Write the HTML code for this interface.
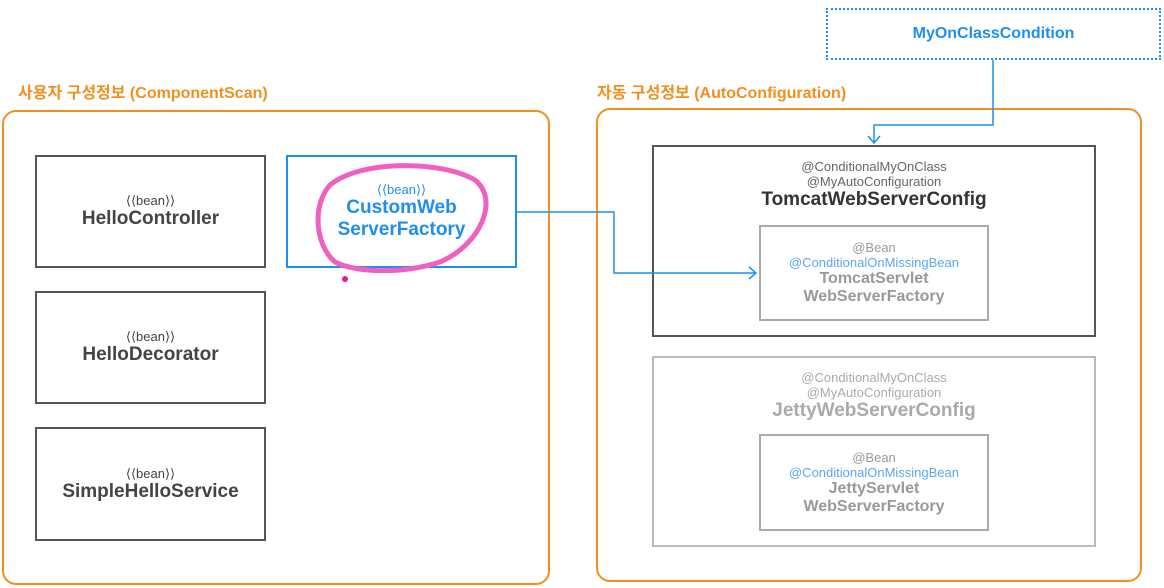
<!DOCTYPE html>
<html><head><meta charset="utf-8"><style>
body{margin:0;width:1164px;height:588px;background:#fff;position:relative;overflow:hidden;font-family:"Liberation Sans","Noto Sans CJK KR",sans-serif;}
.a{position:absolute;box-sizing:border-box;}
.box{display:flex;flex-direction:column;align-items:center;justify-content:center;text-align:center;}
.lbl{color:#f0901e;font-weight:bold;font-size:16px;}
.s{font-size:13px;line-height:15px}
.b{font-size:19px;font-weight:bold;line-height:22px}
</style></head><body>
<div class="a lbl" style="left:18px;top:79px">사용자 구성정보 (ComponentScan)</div>
<div class="a lbl" style="left:597px;top:79px">자동 구성정보 (AutoConfiguration)</div>
<div class="a" style="left:2px;top:110px;width:548px;height:475px;border:2px solid #f0901e;border-radius:14px"></div>
<div class="a" style="left:596px;top:108px;width:546px;height:474px;border:2px solid #f0901e;border-radius:14px"></div>

<div class="a box" style="left:35px;top:155px;width:231px;height:113px;border:2px solid #555;color:#444"><div class="s">⟨⟨bean⟩⟩</div><div class="b">HelloController</div></div>
<div class="a box" style="left:35px;top:291px;width:231px;height:113px;border:2px solid #555;color:#444"><div class="s">⟨⟨bean⟩⟩</div><div class="b">HelloDecorator</div></div>
<div class="a box" style="left:35px;top:427px;width:231px;height:114px;border:2px solid #555;color:#444"><div class="s">⟨⟨bean⟩⟩</div><div class="b">SimpleHelloService</div></div>
<div class="a box" style="left:286px;top:155px;width:231px;height:113px;border:2px solid #1e8ff0;color:#1e8ff0"><div class="s">⟨⟨bean⟩⟩</div><div class="b">CustomWeb<br>ServerFactory</div></div>

<div class="a box" style="left:826px;top:8px;width:335px;height:52px;border:2px dotted #1e8ff0;color:#1e8ff0"><div style="font-size:16px;font-weight:bold">MyOnClassCondition</div></div>

<div class="a box" style="left:652px;top:145px;width:444px;height:192px;border:2.5px solid #555;justify-content:flex-start;padding-top:12px;color:#666"><div class="s">@ConditionalMyOnClass<br>@MyAutoConfiguration</div><div class="b" style="color:#333">TomcatWebServerConfig</div></div>
<div class="a box" style="left:759px;top:225px;width:230px;height:96px;border:2px solid #aaa;color:#999"><div class="s">@Bean</div><div class="s" style="color:#5aa8f0">@ConditionalOnMissingBean</div><div style="font-size:16px;font-weight:bold;line-height:18px">TomcatServlet<br>WebServerFactory</div></div>

<div class="a box" style="left:652px;top:356px;width:444px;height:191px;border:2px solid #bbb;justify-content:flex-start;padding-top:12px;color:#aaa"><div class="s">@ConditionalMyOnClass<br>@MyAutoConfiguration</div><div class="b">JettyWebServerConfig</div></div>
<div class="a box" style="left:759px;top:434px;width:230px;height:97px;border:2px solid #aaa;color:#999"><div class="s">@Bean</div><div class="s" style="color:#5aa8f0">@ConditionalOnMissingBean</div><div style="font-size:16px;font-weight:bold;line-height:18px">JettyServlet<br>WebServerFactory</div></div>

<svg class="a" style="left:0;top:0" width="1164" height="588">
<g fill="none" stroke="#1e8ff0" stroke-width="1.5">
<polyline points="993,60 993,125 874,125 874,142"/>
<polyline points="868,136 874,143 880,136"/>
<polyline points="517,212 614,212 614,273 756,273"/>
<polyline points="749,267 756,273 749,279"/>
</g>
<path d="M330,185 C360,160 440,160 475,180 C500,200 480,245 440,262 C400,275 355,272 335,262 C315,245 312,205 330,185 Z" fill="none" stroke="#f060c0" stroke-width="5"/>
<circle cx="345" cy="279" r="3" fill="#e0208a"/>
</svg>
</body></html>
